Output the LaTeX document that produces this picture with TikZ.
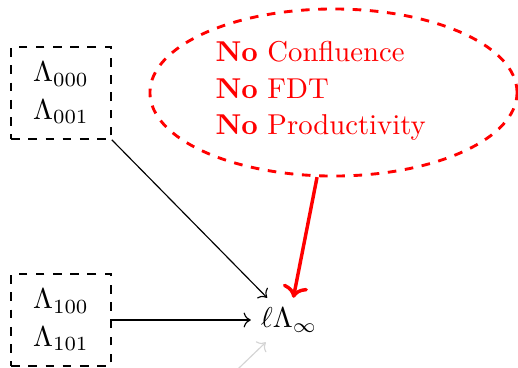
\documentclass[tikz,border=0pt]{standalone}
\usepackage{amsmath,amssymb}
\usetikzlibrary{arrows.meta,positioning,shapes.geometric}
\definecolor{LackRed}{HTML}{FF0000}
\definecolor{FadeGray}{HTML}{D4D4D4}
\tikzset{every node/.style={font=\normalsize},calcbox/.style={draw,semithick,dashed,
 minimum width=34.8pt,minimum height=32pt,align=center,inner sep=0pt},
 lack/.style={ellipse,draw=LackRed,line width=1pt,dashed,minimum width=127.9pt,
 minimum height=58.2pt,inner sep=0pt},link/.style={->,thin}}
\begin{document}
\begin{tikzpicture}[x=0.3484pt,y=-0.3484pt]
\useasboundingbox (0,0) rectangle (518,367);
\node[calcbox] (top) at (61,93) {$\Lambda_{000}$\\[1.2pt]$\Lambda_{001}$};
\node[calcbox] (bot) at (61,320) {$\Lambda_{100}$\\[1.2pt]$\Lambda_{101}$};
\node (linf) at (289,320) {$\ell\Lambda_\infty$};
\node[lack] (bubble) at (333.5,92.5) {};
\node[anchor=west,inner sep=0pt,align=left,text=LackRed] (lacks) at (215,91)
 {\textbf{No} Confluence\\[0.7pt]\textbf{No} FDT\\[0.7pt]\textbf{No} Productivity};
\coordinate (below) at (215,391);
\draw[link] (top.south east) -- (linf);
\draw[link] (bot.east) -- (linf);
\draw[link,FadeGray] (below) -- (linf);
\draw[->,LackRed,very thick] (bubble.259) -- (linf);
\end{tikzpicture}
\end{document}
